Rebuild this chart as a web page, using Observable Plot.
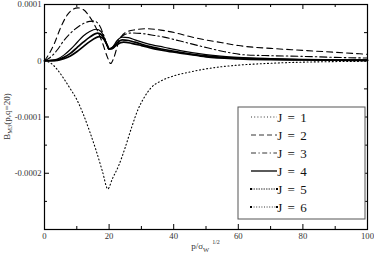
<!DOCTYPE html>
<html><head><meta charset="utf-8">
<script src="https://cdn.jsdelivr.net/npm/d3@7"></script>
<script src="https://cdn.jsdelivr.net/npm/@observablehq/plot@0.6"></script>
<style>body{margin:0;background:#fff;}</style>
</head><body><div id="chart"></div>
<script>
// values in units of 1e-5
const xJ1 = [0,2,4,6,8,10,12,14,16,18,19.6,21,23,25,27,29,31,33,36,40,45,50,55,60,70,80,90,100];
const yJ1 = [0,-0.45,-1.6,-3.2,-5.0,-6.9,-9.5,-12.6,-16.0,-19.8,-22.8,-21.0,-18.6,-15.4,-11.8,-8.6,-6.4,-4.8,-3.6,-2.7,-2.0,-1.45,-1.05,-0.78,-0.45,-0.25,-0.15,-0.09];
const xJ2 = [0,1.5,3,5,7,9,10.3,12,14,16,18,19.5,20.5,21.5,23,25,28,32,36,41,45,50,55,60,70,80,90,100];
const yJ2 = [0,1.3,3.0,5.9,8.1,9.2,9.4,9.1,7.8,5.8,3.1,0.6,-0.5,0.6,3.4,5.0,5.5,5.7,5.45,4.9,4.3,3.7,3.2,2.7,2.2,1.85,1.5,1.15];
const xJ3 = [0,2,4,6,9,12,14,15.4,17,18.5,20,21.5,23,25,27,30,34,37,42,49,55,62,70,80,90,100];
const yJ3 = [0,0.7,1.95,3.6,5.4,6.6,7.0,7.05,6.3,4.3,2.0,2.3,3.8,4.7,4.95,4.85,4.5,4.2,3.5,2.5,1.7,1.05,0.9,0.78,0.6,0.48];
const xJ4 = [0,2,4,6,8,10,12,14,16,17.5,19,20,21,22.5,24,26,28,32,37,42,50,60,70,80,90,100];
const yJ4 = [0,0.05,0.3,1.0,2.0,3.2,4.4,5.2,5.6,5.2,3.3,2.1,2.4,3.6,4.2,4.1,3.7,3.0,2.4,1.8,1.1,0.6,0.38,0.25,0.18,0.14];
const xJ5 = [0,2,4,6,8,10,12,14,16.5,18,19.2,20,21,22.5,24,26,28,32,37,42,50,60,70,80,90,100];
const yJ5 = [0,0.02,0.15,0.6,1.3,2.3,3.3,4.2,4.9,4.4,3.0,2.1,2.3,3.2,3.7,3.6,3.3,2.6,2.0,1.5,0.85,0.45,0.28,0.18,0.13,0.1];
const xJ6 = [0,2,4,6,8,10,12,14,17,18.3,19.4,20,21,22.5,24.5,27,30,34,38,44,50,60,70,80,90,100];
const yJ6 = [0,0.01,0.08,0.35,0.85,1.6,2.5,3.4,4.3,3.9,2.8,2.1,2.2,2.9,3.3,3.1,2.7,2.1,1.7,1.2,0.7,0.35,0.2,0.13,0.09,0.07];

const seriesNames = ["J = 1","J = 2","J = 3","J = 4","J = 5","J = 6"];
const xMajor = [0,20,40,60,80,100];
const xMinor = [10,30,50,70,90];
const yMajor = [-0.0003,-0.0002,-0.0001,0,0.0001];
const yMinor = [-0.00025,-0.00015,-0.00005,0.00005];
const yLabels = [-0.0002,-0.0001,0,0.0001];

const xs = [xJ1,xJ2,xJ3,xJ4,xJ5,xJ6], ys = [yJ1,yJ2,yJ3,yJ4,yJ5,yJ6];
const styles = [
  {dash:"1,2.6", w:1.1},
  {dash:"6,4", w:1.1},
  {dash:"7,3,1.5,3", w:1.1},
  {dash:null, w:1.2},
  {dash:null, w:1.7},
  {dash:null, w:1.7}
];
const rows = seriesNames.map((name,i) => xs[i].map((x,k) => ({x, y: ys[i][k]*1e-5})));

const W = 374, H = 256, mL = 44, mR = 7, mT = 4, mB = 27;
const pw = W-mL-mR, ph = H-mT-mB;
const font = "'Liberation Serif', 'Times New Roman', serif";

const marks = [];
rows.forEach((r,i) => {
  marks.push(Plot.line(r, {x:"x", y:"y", curve:"monotone-x", stroke:"black",
    strokeWidth: styles[i].w, strokeDasharray: styles[i].dash}));
});
// inward ticks on all four sides
marks.push(Plot.tickX(xMajor, {x:d=>d, insetTop: ph-5, stroke:"black"}));
marks.push(Plot.tickX(xMinor, {x:d=>d, insetTop: ph-3, stroke:"black"}));
marks.push(Plot.tickX(xMajor, {x:d=>d, insetBottom: ph-5, stroke:"black"}));
marks.push(Plot.tickX(xMinor, {x:d=>d, insetBottom: ph-3, stroke:"black"}));
marks.push(Plot.tickY(yMajor, {y:d=>d, insetRight: pw-5, stroke:"black"}));
marks.push(Plot.tickY(yMinor, {y:d=>d, insetRight: pw-3, stroke:"black"}));
marks.push(Plot.tickY(yMajor, {y:d=>d, insetLeft: pw-5, stroke:"black"}));
marks.push(Plot.tickY(yMinor, {y:d=>d, insetLeft: pw-3, stroke:"black"}));
marks.push(Plot.axisX({ticks: xMajor, tickSize:0, tickPadding:3, tickFormat: d=>String(d), label:null, fill:"#333"}));
marks.push(Plot.axisY({ticks: yLabels, tickSize:0, tickPadding:3, tickFormat: d=>String(d), label:null, fill:"#333"}));
marks.push(Plot.frame({stroke:"black", strokeWidth:1.2}));

const svg = Plot.plot({
  width: W, height: H,
  marginLeft: mL, marginRight: mR, marginTop: mT, marginBottom: mB,
  x: {domain:[0,100]},
  y: {domain:[-0.0003,0.0001]},
  style: {fontFamily: font, fontSize:"8.7px", background:"white", overflow:"visible"},
  marks
});
document.getElementById("chart").appendChild(svg);

const s = d3.select(svg);
// y-axis title
const yt = s.append("text").attr("transform", `translate(10,${mT+ph/2}) rotate(-90)`)
  .attr("text-anchor","middle").attr("font-family",font).attr("font-size",9).attr("fill","#333");
yt.append("tspan").text("B");
yt.append("tspan").attr("font-size",6.5).attr("dy",2).text("M3");
yt.append("tspan").attr("dy",-2).text("(p,q=20)");
// x-axis title
const xt = s.append("text").attr("x", mL+pw/2).attr("y", 249)
  .attr("text-anchor","middle").attr("font-family",font).attr("font-size",9).attr("fill","#333");
xt.append("tspan").text("p/σ");
xt.append("tspan").attr("font-size",6.5).attr("dy",3).text("W");
xt.append("tspan").attr("font-size",6).attr("dy",-8).attr("dx",3).text("1/2");

// legend
const lg = s.append("g");
lg.append("rect").attr("x",238).attr("y",107).attr("width",127).attr("height",112)
  .attr("fill","white").attr("stroke","#555").attr("stroke-width",1);
const legDash = ["1,2.2","5,3","5,2.5,1.2,2.5",null,"1.5,1","1,1.6"];
seriesNames.forEach((name,i) => {
  const cy = 117 + i*18;
  lg.append("line").attr("x1",251).attr("x2",277).attr("y1",cy).attr("y2",cy)
    .attr("stroke","black").attr("stroke-width", i===3 ? 1.3 : 0.8)
    .attr("stroke-dasharray", legDash[i]);
  if (i >= 4) {
    [251,277].forEach(px => lg.append("rect").attr("x",px-1).attr("y",cy-1).attr("width",2).attr("height",2).attr("fill","black"));
  }
  lg.append("text").attr("x",292).attr("y",cy).attr("dy","0.35em")
    .attr("font-family",font).attr("font-size",13).attr("word-spacing","2px").attr("fill","#111").text(name);
});
</script>
</body></html>
